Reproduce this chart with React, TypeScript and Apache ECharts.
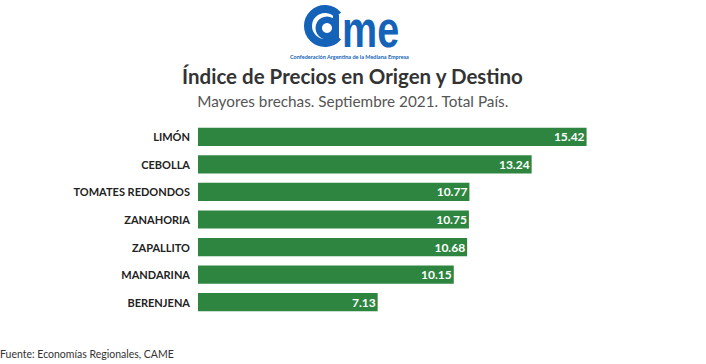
import React, { useEffect, useRef } from "react";
import * as echarts from "echarts";

const categories = ["LIMÓN", "CEBOLLA", "TOMATES REDONDOS", "ZANAHORIA", "ZAPALLITO", "MANDARINA", "BERENJENA"];
const values = [15.42, 13.24, 10.77, 10.75, 10.68, 10.15, 7.13];
const titleText = "Índice de Precios en Origen y Destino";
const subtitleText = "Mayores brechas. Septiembre 2021. Total País.";
const sourceText = "Fuente: Economías Regionales, CAME";
const logoSub = "Confederación Argentina de la Mediana Empresa";

const FONT = "Lato, 'Open Sans', sans-serif";
const BLUE = "#1463b8";

export default function App() {
  const ref = useRef<HTMLDivElement>(null);
  useEffect(() => {
    const chart = echarts.init(ref.current!, null, { renderer: "svg" });
    chart.setOption({
      animation: false,
      backgroundColor: "#ffffff",
      grid: { left: 198, right: 4, top: 123, bottom: 48, containLabel: false },
      xAxis: {
        type: "value",
        min: 0,
        max: 20,
        show: false,
      },
      yAxis: {
        type: "category",
        data: categories,
        inverse: true,
        axisLine: { show: false },
        axisTick: { show: false },
        axisLabel: {
          fontFamily: FONT,
          fontWeight: "bold",
          fontSize: 11,
          color: "#222",
          margin: 8,
        },
      },
      series: [
        {
          type: "bar",
          data: values,
          barCategoryGap: "34%",
          itemStyle: { color: "#2e8540" },
          label: {
            show: true,
            position: "insideRight",
            offset: [3, 0],
            formatter: (p: any) => p.value.toFixed(2),
            color: "#ffffff",
            fontFamily: FONT,
            fontWeight: "bold",
            fontSize: 12,
          },
        },
      ],
      graphic: [
        {
          type: "text",
          left: "center",
          top: 65,
          style: { text: titleText, font: `bold 20.5px ${FONT}`, fill: "#333" },
        },
        {
          type: "text",
          left: "center",
          top: 93,
          style: { text: subtitleText, font: `15.3px ${FONT}`, fill: "#555" },
        },
        {
          type: "text",
          left: 0,
          top: 348,
          style: { text: sourceText, font: `10.5px ${FONT}`, fill: "#333" },
        },
        // logo C outer band
        {
          type: "arc",
          shape: { cx: 325, cy: 26, r: 17, startAngle: Math.PI / 4.5, endAngle: -Math.PI / 4.5, clockwise: true },
          style: { stroke: BLUE, lineWidth: 8, fill: "none" },
        },
        // logo "a" bowl
        {
          type: "ring",
          shape: { cx: 327, cy: 28, r: 11.5, r0: 5 },
          style: { fill: BLUE },
        },
        // logo "a" stem
        {
          type: "rect",
          shape: { x: 333, y: 15, width: 6, height: 25 },
          style: { fill: BLUE },
        },
        {
          type: "text",
          x: 342,
          y: 29,
          scaleX: 0.86,
          scaleY: 1.13,
          style: {
            text: "me",
            font: "bold 46px 'Liberation Sans', Arial, sans-serif",
            fill: BLUE,
            verticalAlign: "middle",
          },
        },
        {
          type: "text",
          left: 290,
          top: 54,
          style: { text: logoSub, font: `bold 5.5px ${FONT}`, fill: BLUE },
        },
      ],
    });
    return () => chart.dispose();
  }, []);
  return (
    <div
      ref={ref}
      style={{ position: "absolute", left: 0, top: 0, width: 706, height: 364 }}
    />
  );
}
